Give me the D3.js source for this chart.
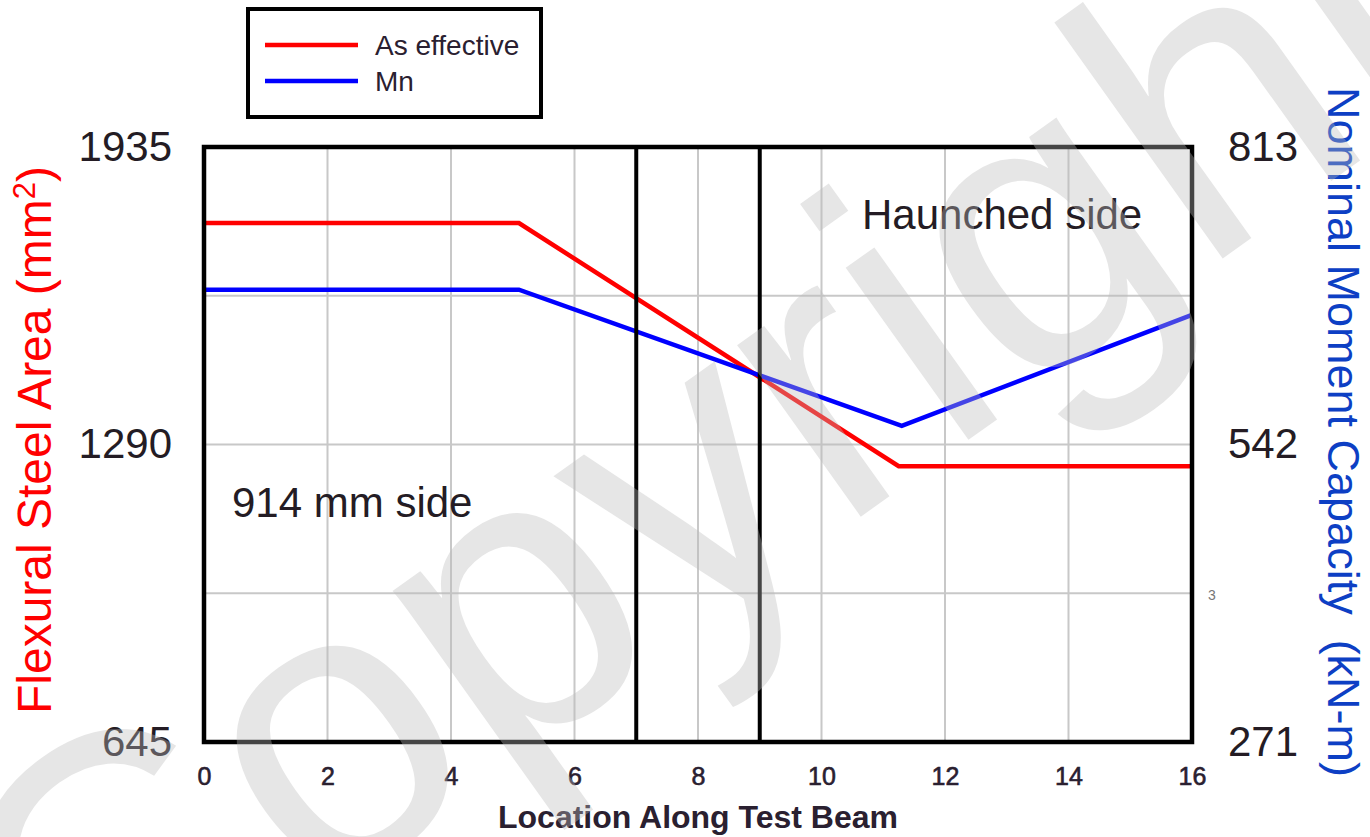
<!DOCTYPE html>
<html>
<head lang="en">
  <title>Test beam</title>
  <script src="https://d3js.org/d3.v7.min.js" charset="utf-8"></script>
  <style>
    body { margin: 0; background: #fff; }
    text { font-family: "Liberation Sans", Arial, sans-serif; }
  </style>
</head>
<body>
  <script>
    // data
    var asX = [0, 5.1, 11.25, 16];
    var asEffective = [1770, 1770, 1243, 1243];
    var mnX = [0, 5.1, 11.3, 16];
    var mnValues = [683, 683, 559, 660];
    var xTicks = [0, 2, 4, 6, 8, 10, 12, 14, 16];
    var leftTicks = [645, 1290, 1935];
    var rightTicks = [271, 542, 813];
    var markers = [7, 9];

    var width = 1370;
    var height = 837;

    var svg = d3.select("body")
      .append("svg")
      .attr("width", width)
      .attr("height", height);

    var x = d3.scaleLinear().domain([0, 16]).range([204, 1192]);
    var yL = d3.scaleLinear().domain([645, 1935]).range([742, 147]);
    var yR = d3.scaleLinear().domain([271, 813]).range([742, 147]);

    // grid
    svg.append("g").selectAll("line")
      .data(xTicks.slice(1, -1))
      .enter().append("line")
        .attr("x1", function(d) { return x(d); })
        .attr("x2", function(d) { return x(d); })
        .attr("y1", yL(1935)).attr("y2", yL(645))
        .style("stroke", "#c8c8c8").style("stroke-width", 2);

    svg.append("g").selectAll("line")
      .data(d3.range(1, 4).map(function(i) { return 645 + i * (1935 - 645) / 4; }))
      .enter().append("line")
        .attr("x1", x(0)).attr("x2", x(16))
        .attr("y1", function(d) { return yL(d); })
        .attr("y2", function(d) { return yL(d); })
        .style("stroke", "#c8c8c8").style("stroke-width", 2);

    // lines
    var lineL = d3.line()
      .x(function(d, i) { return x(asX[i]); })
      .y(function(d) { return yL(d); });
    var lineR = d3.line()
      .x(function(d, i) { return x(mnX[i]); })
      .y(function(d) { return yR(d); });

    svg.append("path").datum(asEffective)
      .attr("d", lineL)
      .style("fill", "none").style("stroke", "#ff0000").style("stroke-width", 4.5);
    svg.append("path").datum(mnValues)
      .attr("d", lineR)
      .style("fill", "none").style("stroke", "#0000ff").style("stroke-width", 4.5);

    // vertical markers
    svg.append("g").selectAll("line")
      .data(markers)
      .enter().append("line")
        .attr("x1", function(d) { return x(d); })
        .attr("x2", function(d) { return x(d); })
        .attr("y1", yL(1935)).attr("y2", yL(645))
        .style("stroke", "#000").style("stroke-width", 4);

    // frame
    svg.append("rect")
      .attr("x", x(0)).attr("y", yL(1935))
      .attr("width", x(16) - x(0)).attr("height", yL(645) - yL(1935))
      .style("fill", "none").style("stroke", "#000").style("stroke-width", 4.5);

    // axes
    var xAxis = svg.append("g")
      .attr("transform", "translate(0," + yL(645) + ")")
      .call(d3.axisBottom(x).tickValues(xTicks).tickSize(0).tickPadding(25));
    xAxis.select(".domain").remove();
    xAxis.selectAll("text")
      .style("font-size", "25px").style("font-family", "Liberation Sans, Arial")
      .style("fill", "#2a2030").style("stroke", "#2a2030").style("stroke-width", 0.6);

    var lAxis = svg.append("g")
      .attr("transform", "translate(" + x(0) + ",0)")
      .call(d3.axisLeft(yL).tickValues(leftTicks).tickFormat(d3.format("d")).tickSize(0).tickPadding(32));
    lAxis.select(".domain").remove();
    lAxis.selectAll("text")
      .style("font-size", "42px").style("font-family", "Liberation Sans, Arial")
      .style("fill", "#241c24");

    var rAxis = svg.append("g")
      .attr("transform", "translate(" + x(16) + ",0)")
      .call(d3.axisRight(yR).tickValues(rightTicks).tickFormat(d3.format("d")).tickSize(0).tickPadding(36));
    rAxis.select(".domain").remove();
    rAxis.selectAll("text")
      .style("font-size", "42px").style("font-family", "Liberation Sans, Arial")
      .style("fill", "#241c24");

    svg.append("text")
      .attr("x", 1208).attr("y", 600)
      .style("font-size", "14px").style("fill", "#777")
      .text("3");

    // titles
    svg.append("text")
      .attr("x", 698).attr("y", 828)
      .attr("text-anchor", "middle")
      .style("font-size", "32px").style("font-weight", "bold").style("fill", "#2a2030")
      .text("Location Along Test Beam");

    var lt = svg.append("text")
      .attr("transform", "translate(51,440) rotate(-90)")
      .attr("text-anchor", "middle")
      .style("font-size", "48px").style("fill", "#ff0000");
    lt.append("tspan").text("Flexural Steel Area (mm");
    lt.append("tspan").attr("dy", -16).style("font-size", "31px").text("2");
    lt.append("tspan").attr("dy", 16).text(")");

    svg.append("text")
      .attr("transform", "translate(1328,432) rotate(90)")
      .attr("text-anchor", "middle")
      .style("font-size", "45px").style("fill", "#0d3fc4")
      .style("white-space", "pre")
      .text("Nominal Moment Capacity  (kN-m)");

    // annotations
    svg.append("text")
      .attr("x", 862).attr("y", 229)
      .style("font-size", "42px").style("fill", "#241c24")
      .text("Haunched side");
    svg.append("text")
      .attr("x", 232).attr("y", 517)
      .style("font-size", "42px").style("fill", "#241c24")
      .text("914 mm side");

    // legend
    var legend = svg.append("g");
    legend.append("rect")
      .attr("x", 248).attr("y", 9).attr("width", 293).attr("height", 108)
      .style("fill", "#fff").style("stroke", "#000").style("stroke-width", 4);
    var legendItems = [["As effective", "#ff0000", 45], ["Mn", "#0000ff", 81]];
    legend.selectAll(".li").data(legendItems).enter().append("line")
      .attr("x1", 265).attr("x2", 358)
      .attr("y1", function(d) { return d[2]; })
      .attr("y2", function(d) { return d[2]; })
      .style("stroke", function(d) { return d[1]; }).style("stroke-width", 4.5);
    legend.selectAll(".lt").data(legendItems).enter().append("text")
      .attr("x", 375)
      .attr("y", function(d) { return d[2] + 10; })
      .style("font-size", "28px").style("fill", "#2a2030")
      .text(function(d) { return d[0]; });

    // watermark
    svg.append("text")
      .attr("transform", "translate(78,1075) rotate(-35.5)")
      .style("font-size", "400px")
      .style("fill", "rgb(188,188,188)").style("opacity", 0.37)
      .text("Copyright");
  </script>
</body>
</html>
